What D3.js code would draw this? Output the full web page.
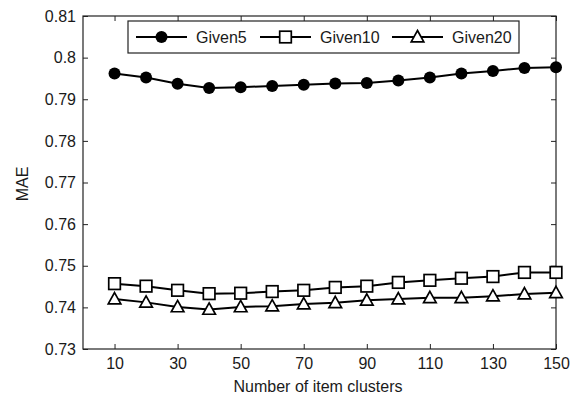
<!DOCTYPE html>
<html>
<head>
<meta charset="utf-8">
<script src="https://cdn.jsdelivr.net/npm/d3@7"></script>
<style>
  body { margin: 0; background: #fff; }
  text { font-family: "Liberation Sans", Arial, sans-serif; fill: #1a1a1a; }
</style>
</head>
<body>
<div id="chart"></div>
<script>
var clusters = [10, 20, 30, 40, 50, 60, 70, 80, 90, 100, 110, 120, 130, 140, 150];
var given5 = [0.7962, 0.7952, 0.7937, 0.7927, 0.7929, 0.7932, 0.7935, 0.7938, 0.7939, 0.7945, 0.7952, 0.7962, 0.7968, 0.7975, 0.7977];
var given10 = [0.7457, 0.7451, 0.7441, 0.7433, 0.7434, 0.7438, 0.7441, 0.7448, 0.7451, 0.7460, 0.7465, 0.7470, 0.7474, 0.7484, 0.7484];
var given20 = [0.7420, 0.7412, 0.7401, 0.7395, 0.7401, 0.7403, 0.7408, 0.7411, 0.7417, 0.7420, 0.7423, 0.7423, 0.7427, 0.7432, 0.7435];
var xTicks = [10, 30, 50, 70, 90, 110, 130, 150];
var yTicks = [0.73, 0.74, 0.75, 0.76, 0.77, 0.78, 0.79, 0.8, 0.81];
var seriesNames = ["Given5", "Given10", "Given20"];
var seriesMarkers = ["circle", "square", "triangle"];

var W = 573, H = 397;
var margin = { top: 16, right: 17, bottom: 48, left: 83 };
var width = W - margin.left - margin.right,
    height = H - margin.top - margin.bottom;

var svg = d3.select("#chart").append("svg")
    .attr("width", W).attr("height", H);
var g = svg.append("g")
    .attr("transform", "translate(" + margin.left + "," + margin.top + ")");

var x = d3.scaleLinear().domain([0, 150]).range([0, width]);
var y = d3.scaleLinear().domain([0.73, 0.81]).range([height, 0]);

// axes with inward ticks, MATLAB style box
var fmt = (d) => d3.format("")(+d.toFixed(2));
g.append("g").attr("transform", "translate(0," + height + ")")
    .call(d3.axisBottom(x).tickValues(xTicks).tickSizeInner(-5).tickSizeOuter(0).tickPadding(9));
g.append("g").call(d3.axisTop(x).tickValues(xTicks).tickSizeInner(-5).tickSizeOuter(0).tickFormat(""));
g.append("g")
    .call(d3.axisLeft(y).tickValues(yTicks).tickSizeInner(-5).tickSizeOuter(0).tickPadding(7).tickFormat(fmt));
g.append("g").attr("transform", "translate(" + width + ",0)")
    .call(d3.axisRight(y).tickValues(yTicks).tickSizeInner(-5).tickSizeOuter(0).tickFormat(""));
g.selectAll(".domain").remove();
g.selectAll(".tick line").attr("stroke", "#222");
g.selectAll(".tick text").style("font-size", "16px").attr("fill", "#1a1a1a");

g.append("rect").attr("width", width).attr("height", height)
    .attr("fill", "none").attr("stroke", "#222").attr("stroke-width", 1.2);

var series = [given5, given10, given20];
var line = d3.line().x((d, i) => x(clusters[i])).y((d) => y(d));

function drawMarker(sel, type) {
    if (type === "circle") {
        sel.append("circle").attr("r", 6).attr("fill", "#000");
    } else if (type === "square") {
        sel.append("rect").attr("x", -5.8).attr("y", -5.8).attr("width", 11.6).attr("height", 11.6)
            .attr("fill", "#fff").attr("stroke", "#000").attr("stroke-width", 1.7);
    } else {
        sel.append("path").attr("d", "M0,-6.5L6.3,4.8L-6.3,4.8Z")
            .attr("fill", "#fff").attr("stroke", "#000").attr("stroke-width", 1.7);
    }
}

series.forEach((vals, k) => {
    g.append("path").datum(vals)
        .attr("fill", "none").attr("stroke", "#000").attr("stroke-width", 2)
        .attr("d", line);
    g.selectAll(".m" + k).data(vals).enter().append("g")
        .attr("class", "m" + k)
        .attr("transform", (d, i) => "translate(" + x(clusters[i]) + "," + y(d) + ")")
        .each(function () { drawMarker(d3.select(this), seriesMarkers[k]); });
});

// legend
var lg = svg.append("g").attr("transform", "translate(128,21)");
lg.append("rect").attr("width", 391).attr("height", 32)
    .attr("fill", "#fff").attr("stroke", "#222").attr("stroke-width", 1.2);
var legendX = [8, 132, 264];
seriesNames.forEach((name, k) => {
    var item = lg.append("g").attr("transform", "translate(" + legendX[k] + ",16)");
    item.append("line").attr("x1", 0).attr("x2", 51).attr("stroke", "#000").attr("stroke-width", 2);
    drawMarker(item.append("g").attr("transform", "translate(25.5,0)"), seriesMarkers[k]);
    item.append("text").attr("x", 60).attr("y", 6).style("font-size", "16px").text(name);
});

// axis titles
svg.append("text")
    .attr("transform", "translate(28," + 184 + ") rotate(-90)")
    .attr("text-anchor", "middle").style("font-size", "16px").text("MAE");
svg.append("text")
    .attr("x", 318).attr("y", 392)
    .attr("text-anchor", "middle").style("font-size", "16px").text("Number of item clusters");
</script>
</body>
</html>
